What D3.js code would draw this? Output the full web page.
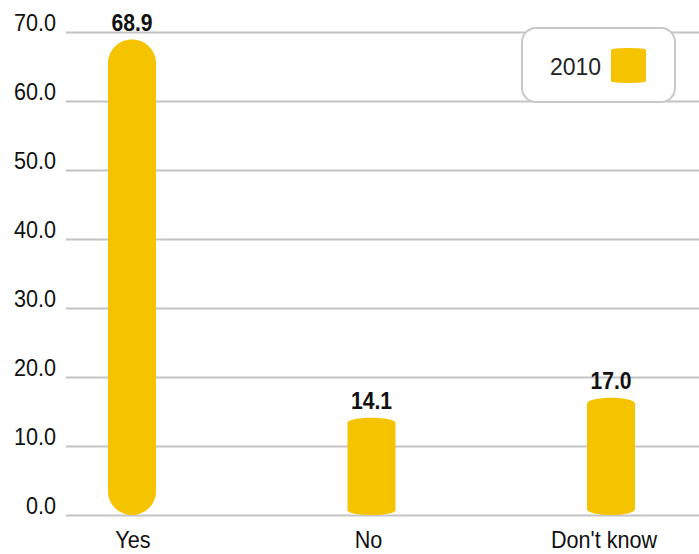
<!DOCTYPE html>
<html lang="en">
<head>
    <meta charset="UTF-8">
    <title>Chart</title>
    <script src="https://cdn.jsdelivr.net/npm/d3@7"></script>
    <style>
        body { margin: 0; background: #fff; }
        text { font-family: "Liberation Sans", Arial, sans-serif; }
    </style>
</head>
<body>
<script>
    // data
    var categories = ["Yes", "No", "Don't know"];
    var values2010 = [68.9, 14.1, 17.0];
    var yTicks = [0, 10, 20, 30, 40, 50, 60, 70];
    var seriesName = "2010";

    var width = 699, height = 554;
    var barColor = "#f6c300";
    var gridColor = "#c4c4c4";

    var svg = d3.select("body").append("svg")
        .attr("width", width)
        .attr("height", height);

    var x = d3.scalePoint()
        .domain(categories)
        .range([132, 611]);

    // category labels sit slightly left of the bars in the original
    var xLabel = d3.scalePoint()
        .domain(categories)
        .range([133, 604]);

    var y = d3.scaleLinear()
        .domain([0, 70])
        .range([515, 32]);

    var barW = 48;

    // grid lines + tick labels
    var yAxis = d3.axisLeft(y)
        .tickValues(yTicks)
        .tickSize(-(width - 66))
        .tickFormat(d3.format(".1f"));

    var gAxis = svg.append("g")
        .attr("transform", "translate(66,0)")
        .call(yAxis);
    gAxis.select(".domain").remove();
    gAxis.selectAll(".tick line")
        .attr("stroke", gridColor)
        .attr("stroke-width", 2);
    gAxis.selectAll(".tick text")
        .attr("x", -10 / 0.9)
        .attr("dy", "-0.05em")
        .attr("transform", "scale(0.9,1)")
        .attr("fill", "#111")
        .style("font-size", "24px");

    // cylinder-ish bar: convex caps top and bottom, cap depth ~5% of height
    function barPath(cx, top, bottom, w) {
        var h = bottom - top;
        var cap = Math.min(h * 0.05, w / 2);
        var l = cx - w / 2, r = cx + w / 2;
        var k = 0.5523;
        var p = d3.path();
        p.moveTo(l, top + cap);
        p.bezierCurveTo(l, top + cap - cap * k, cx - w / 2 * k, top, cx, top);
        p.bezierCurveTo(cx + w / 2 * k, top, r, top + cap - cap * k, r, top + cap);
        p.lineTo(r, bottom - cap);
        p.bezierCurveTo(r, bottom - cap + cap * k, cx + w / 2 * k, bottom, cx, bottom);
        p.bezierCurveTo(cx - w / 2 * k, bottom, l, bottom - cap + cap * k, l, bottom - cap);
        p.closePath();
        return p.toString();
    }

    svg.selectAll(".bar")
        .data(values2010)
        .enter()
        .append("path")
        .attr("class", "bar")
        .attr("fill", barColor)
        .attr("d", function (d, i) {
            return barPath(x(categories[i]), y(d), y(0), barW);
        });

    // value labels (bold, a bit condensed)
    svg.selectAll(".val")
        .data(values2010)
        .enter()
        .append("text")
        .attr("class", "val")
        .attr("transform", function (d, i) {
            return "translate(" + x(categories[i]) + "," + (y(d) - 9) + ") scale(0.88,1)";
        })
        .attr("text-anchor", "middle")
        .style("font-size", "24px")
        .style("font-weight", "bold")
        .attr("fill", "#111")
        .text(function (d) { return d.toFixed(1); });

    // category labels
    svg.selectAll(".cat")
        .data(categories)
        .enter()
        .append("text")
        .attr("class", "cat")
        .attr("transform", function (d) {
            return "translate(" + xLabel(d) + ",548) scale(0.94,1)";
        })
        .attr("text-anchor", "middle")
        .style("font-size", "23px")
        .attr("fill", "#111")
        .text(function (d) { return d; });

    // legend
    var lg = svg.append("g");
    lg.append("rect")
        .attr("x", 522).attr("y", 28)
        .attr("width", 153).attr("height", 74)
        .attr("rx", 14).attr("ry", 14)
        .attr("fill", "#fff")
        .attr("stroke", "#c8c8c8")
        .attr("stroke-width", 2);
    lg.append("text")
        .attr("x", 550).attr("y", 75)
        .style("font-size", "23px")
        .attr("fill", "#222")
        .text(seriesName);
    lg.append("path")
        .attr("fill", barColor)
        .attr("d", barPath(628.5, 48, 83, 35));
</script>
</body>
</html>
